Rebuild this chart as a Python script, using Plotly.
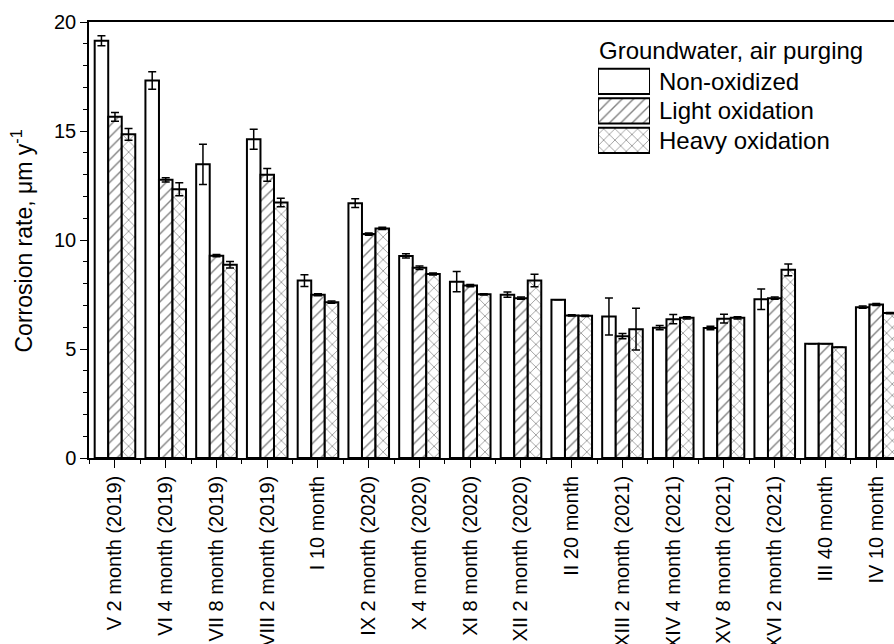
import plotly.graph_objects as go

# Exposure periods (test series and duration)
categories = [
    "V 2 month (2019)", "VI 4 month (2019)", "VII 8 month (2019)", "VIII 2 month (2019)",
    "I 10 month", "IX 2 month (2020)", "X 4 month (2020)", "XI 8 month (2020)",
    "XII 2 month (2020)", "II 20 month", "XIII 2 month (2021)", "XIV 4 month (2021)",
    "XV 8 month (2021)", "XVI 2 month (2021)", "III 40 month", "IV 10 month",
]

# Corrosion rate, um/y
non_oxidized = [19.14, 17.32, 13.47, 14.62, 8.14, 11.69, 9.27, 8.09,
                7.49, 7.26, 6.49, 5.98, 5.96, 7.28, 5.24, 6.92]
light_oxidation = [15.65, 12.76, 9.28, 12.99, 7.49, 10.27, 8.73, 7.91,
                   7.33, 6.54, 5.59, 6.37, 6.39, 7.33, 5.24, 7.04]
heavy_oxidation = [14.85, 12.33, 8.86, 11.72, 7.15, 10.53, 8.44, 7.51,
                   8.14, 6.52, 5.91, 6.43, 6.43, 8.63, 5.08, 6.65]

# Standard deviations
err_non = [0.23, 0.40, 0.92, 0.46, 0.27, 0.20, 0.10, 0.46,
           0.12, 0.0, 0.85, 0.10, 0.08, 0.47, 0.0, 0.05]
err_light = [0.20, 0.10, 0.05, 0.29, 0.05, 0.05, 0.08, 0.05,
             0.05, 0.03, 0.12, 0.21, 0.20, 0.05, 0.0, 0.05]
err_heavy = [0.27, 0.30, 0.15, 0.20, 0.05, 0.05, 0.05, 0.03,
             0.29, 0.03, 0.96, 0.05, 0.05, 0.27, 0.0, 0.03]

series_names = ["Non-oxidized", "Light oxidation", "Heavy oxidation"]
legend_title = "Groundwater, air purging"

FONT = "Liberation Sans, Arial, sans-serif"
positions = list(range(len(categories)))

series = [
    (non_oxidized, err_non, ""),
    (light_oxidation, err_light, "/"),
    (heavy_oxidation, err_heavy, "x"),
]
PATTERN_SIZE = 8
PATTERN_SOLIDITY = 0.17

fig = go.Figure()
for (vals, errs, shape), name in zip(series, series_names):
    fig.add_trace(go.Bar(
        x=positions, y=vals, name=name,
        marker=dict(
            color="white",
            line=dict(color="black", width=2),
            pattern=dict(shape=shape, fgcolor="black", bgcolor="white",
                         size=PATTERN_SIZE, solidity=PATTERN_SOLIDITY),
        ),
        error_y=dict(type="data", array=errs, visible=True,
                     color="black", thickness=1.5, width=4),
        showlegend=False,
    ))

# Legend swatches drawn as bars on a small inset axis
fig.add_trace(go.Bar(
    x=[1, 1, 1], y=[0, 1, 2], orientation="h", width=0.86,
    xaxis="x2", yaxis="y2",
    marker=dict(
        color="white",
        line=dict(color="black", width=2),
        pattern=dict(shape=[s for _, _, s in series], fgcolor="black",
                     bgcolor="white", size=PATTERN_SIZE,
                     solidity=PATTERN_SOLIDITY),
    ),
    showlegend=False, hoverinfo="skip",
))

annotations = [
    dict(text=legend_title, xref="paper", yref="paper", x=0.631, y=0.935,
         xanchor="left", yanchor="middle", showarrow=False,
         font=dict(family=FONT, size=24, color="black")),
    dict(text="Corrosion rate, μm y<sup>-1</sup>", xref="paper", yref="paper",
         x=-0.083, y=0.497, textangle=-90, xanchor="center", yanchor="middle",
         showarrow=False, font=dict(family=FONT, size=23, color="black")),
]
for i, name in enumerate(series_names):
    annotations.append(dict(
        text=name, xref="paper", yref="y2", x=0.7055, y=i,
        xanchor="left", yanchor="middle", showarrow=False,
        font=dict(family=FONT, size=24, color="black"),
    ))

fig.update_layout(
    width=894, height=644,
    margin=dict(l=89, r=0, t=22, b=186),
    paper_bgcolor="white", plot_bgcolor="white",
    barmode="group", bargap=0.2, bargroupgap=0,
    font=dict(family=FONT, size=20, color="black"),
    annotations=annotations,
    xaxis=dict(
        range=[-0.512, 15.35], tickmode="array", tickvals=positions,
        ticktext=categories, tickangle=-90, ticks="outside", ticklen=8,
        tickwidth=1.2, tickcolor="black",
        minor=dict(tick0=0.5, dtick=1, ticks="outside", ticklen=4,
                   tickwidth=1.2, tickcolor="black"),
        showline=True, linecolor="black", linewidth=1.5, mirror=True,
        showgrid=False, zeroline=False, automargin=False,
        tickfont=dict(family=FONT, size=20, color="black"),
    ),
    yaxis=dict(
        range=[0, 20], dtick=5, tick0=0, ticks="outside", ticklen=7,
        tickwidth=1.2, tickcolor="black",
        minor=dict(dtick=1, ticks="outside", ticklen=4, tickwidth=1.2,
                   tickcolor="black"),
        showline=True, linecolor="black", linewidth=1.5,
        showgrid=False, zeroline=False, automargin=False,
        tickfont=dict(family=FONT, size=20, color="black"),
    ),
    xaxis2=dict(domain=[0.6323, 0.6969], range=[0, 1], visible=False,
                anchor="y2", fixedrange=True),
    yaxis2=dict(domain=[0.6948, 0.8978], range=[2.5, -0.5], visible=False,
                anchor="x2", fixedrange=True),
)

fig.write_html("out.html")
